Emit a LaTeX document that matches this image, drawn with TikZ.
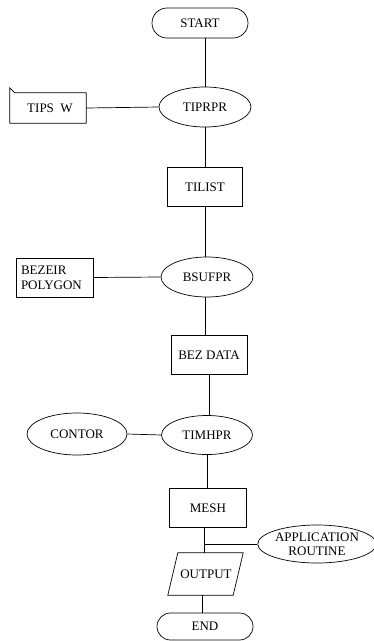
\documentclass[tikz,border=0pt]{standalone}
\usepackage{fontspec}
\setmainfont{Liberation Serif}
\usetikzlibrary{shapes.geometric,shapes.misc}
\begin{document}
\begin{tikzpicture}[x=1pt,y=-1pt,
  every node/.style={font=\fontsize{13}{14}\selectfont, inner sep=0pt},
  ln/.style={line width=0.7pt},
  term/.style={draw, line width=0.7pt, rounded rectangle, minimum width=96pt, minimum height=30pt},
  proc/.style={draw, line width=0.7pt, ellipse, minimum width=92pt, minimum height=40pt},
  box/.style={draw, line width=0.7pt, rectangle, minimum width=76pt, minimum height=39pt}]
\useasboundingbox (0,0) rectangle (374,641);
% main column
\node[term] (start) at (200,23) {START};
\node[proc] (tiprpr) at (205,107) {TIPRPR};
\node[box, minimum width=75pt] (tilist) at (205,187) {TILIST};
\node[proc] (bsufpr) at (207,277) {BSUFPR};
\node[box] (bezdata) at (209,355) {BEZ\ DATA};
\node[proc, minimum width=91pt, minimum height=39pt] (timhpr) at (207,435) {TIMHPR};
\node[box, minimum width=77pt] (mesh) at (208,508) {MESH};
\node[minimum width=75pt, minimum height=42pt] (output) at (205.5,574) {\hspace*{1pt}OUTPUT};
\draw[ln] ([xshift=10pt]output.north west) -- (output.north east) -- ([xshift=-10pt]output.south east) -- (output.south west) -- cycle;
\node[term, minimum height=27pt] (end) at (205,626.5) {END};
% side nodes
\node[minimum width=76pt, minimum height=30pt] (tips) at (48,108) {\hspace*{4pt}TIPS\ \ W};
\draw[ln] ([yshift=5pt]tips.north west) -- ([xshift=5pt]tips.north west) -- (tips.north east) -- (tips.south east) -- (tips.south west) -- cycle;
\node[box, minimum width=77pt, align=left, text width=67pt, inner xsep=5pt] (bezeir) at (54.5,277.5) {BEZEIR\\[1pt]POLYGON};
\node[proc, minimum width=100pt, minimum height=42pt] (contor) at (77,434) {CONTOR};
\node[proc, minimum width=112pt, minimum height=38pt, align=center] (app) at (317,544) {APPLICATION\\ROUTINE};
% connectors
\draw[ln] (tiprpr.north) -- (tiprpr.north |- start.south);
\draw[ln] (tips.east) -- (tiprpr.west);
\draw[ln] (tiprpr.south) -- (tiprpr.south |- tilist.north);
\draw[ln] (tilist.south) -- (tilist.south |- bsufpr.north);
\draw[ln] (bezeir.east) -- (bsufpr.west);
\draw[ln] ([xshift=-2pt]bsufpr.south) -- ([xshift=-2pt]bsufpr.south |- bezdata.north);
\draw[ln] (bezdata.south) -- (bezdata.south |- timhpr.north);
\draw[ln] (contor.east) -- (timhpr.west);
\draw[ln] (timhpr.south) -- (timhpr.south |- mesh.north);
\coordinate (br) at ([xshift=-4pt]mesh.south |- app.west);
\draw[ln] ([xshift=-4pt]mesh.south) -- ([xshift=-4pt]mesh.south |- output.north);
\draw[ln] (br) -- (app.west);
\draw[ln] ([xshift=-3.5pt]output.south) -- ([xshift=-3.5pt]output.south |- end.north);
\end{tikzpicture}
\end{document}
